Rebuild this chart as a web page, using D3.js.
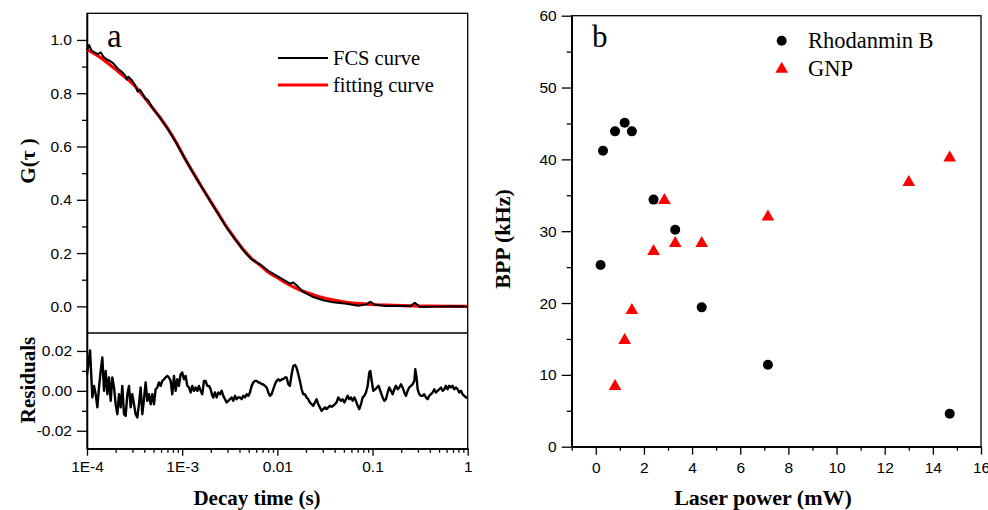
<!DOCTYPE html>
<html>

<head>
    <meta charset="utf-8">
    <title>FCS curve and BPP vs laser power</title>
    <script type="text/javascript" src="https://d3js.org/d3.v7.min.js"></script>
    <style>
        body { margin: 0; background: #fff; }
        svg { display: block; }
    </style>
</head>

<body>
</body>

<script type="text/javascript">
    var w = 988;
    var h = 510;

    // ---- panel a: FCS curve, fit and residuals (time given as log10 of seconds) ----
    var fitLogT = [-4.000, -3.846, -3.671, -3.496, -3.320, -3.233, -3.146, -3.058, -2.971, -2.883,
        -2.796, -2.708, -2.620, -2.533, -2.445, -2.358, -2.270, -2.183, -2.096, -2.007,
        -1.920, -1.833, -1.745, -1.658, -1.570, -1.482, -1.308, -1.132, -0.958, -0.783, -0.432, 0.000];
    var fitG = [0.965, 0.931, 0.881, 0.827, 0.749, 0.709, 0.664, 0.612, 0.555, 0.501,
        0.449, 0.398, 0.348, 0.298, 0.254, 0.213, 0.179, 0.155, 0.128, 0.110,
        0.090, 0.073, 0.059, 0.048, 0.037, 0.029, 0.017, 0.010, 0.006, 0.004, 0.001, 0.000];

    var fcsLogT = [-4.000, -3.979, -3.951, -3.916, -3.881, -3.856, -3.828, -3.793, -3.758, -3.723,
        -3.688, -3.671, -3.636, -3.601, -3.583, -3.566, -3.531, -3.496, -3.468, -3.443,
        -3.408, -3.391, -3.356, -3.321, -3.233, -3.146, -3.058, -2.971, -2.883, -2.796,
        -2.708, -2.620, -2.533, -2.445, -2.358, -2.270, -2.183, -2.078, -1.973, -1.868,
        -1.833, -1.798, -1.728, -1.623, -1.518, -1.413, -1.273, -1.150, -1.063, -1.021,
        -0.975, -0.852, -0.712, -0.607, -0.555, -0.502, -0.327, -0.152, 0.000];
    var fcsG = [0.962, 0.981, 0.960, 0.952, 0.947, 0.954, 0.937, 0.927, 0.921, 0.912,
        0.897, 0.890, 0.881, 0.868, 0.852, 0.862, 0.850, 0.831, 0.806, 0.813,
        0.793, 0.781, 0.773, 0.749, 0.708, 0.663, 0.611, 0.554, 0.500, 0.448,
        0.397, 0.346, 0.296, 0.252, 0.211, 0.176, 0.158, 0.129, 0.108, 0.085,
        0.090, 0.079, 0.054, 0.035, 0.023, 0.015, 0.010, 0.002, 0.0075, 0.0175,
        0.006, 0.001, 0.0025, 0.000, 0.0138, -0.0025, -0.001, 0.000, -0.001];

    var resLogT = [-4.000, -3.986, -3.968, -3.954, -3.944, -3.926, -3.909, -3.891, -3.874, -3.856,
        -3.839, -3.821, -3.804, -3.786, -3.769, -3.751, -3.734, -3.716, -3.699, -3.681,
        -3.664, -3.646, -3.629, -3.611, -3.594, -3.576, -3.559, -3.541, -3.524, -3.506,
        -3.489, -3.471, -3.454, -3.436, -3.419, -3.401, -3.384, -3.366, -3.349, -3.331,
        -3.314, -3.296, -3.279, -3.261, -3.244, -3.226, -3.209, -3.191, -3.174, -3.156,
        -3.139, -3.121, -3.104, -3.086, -3.069, -3.051, -3.034, -3.016, -2.999, -2.981,
        -2.964, -2.946, -2.929, -2.911, -2.894, -2.876, -2.859, -2.841, -2.824, -2.806,
        -2.789, -2.771, -2.754, -2.736, -2.718, -2.701, -2.683,
        -2.673, -2.656, -2.638, -2.620, -2.603, -2.585, -2.568, -2.550, -2.533, -2.515,
        -2.498, -2.480, -2.463, -2.445, -2.428, -2.410, -2.393, -2.375, -2.358, -2.340,
        -2.323, -2.305, -2.288, -2.270, -2.253, -2.235, -2.218, -2.200, -2.183, -2.165,
        -2.148, -2.130, -2.113, -2.095, -2.078, -2.060, -2.043, -2.025, -2.008, -1.990,
        -1.973, -1.955, -1.938, -1.920, -1.903, -1.885, -1.868, -1.850, -1.833, -1.815,
        -1.798, -1.780, -1.763, -1.745, -1.728, -1.710, -1.693, -1.675, -1.658, -1.640,
        -1.623, -1.605, -1.588, -1.570, -1.553, -1.535, -1.518, -1.500, -1.483, -1.465,
        -1.448, -1.430, -1.413, -1.395, -1.378, -1.360,
        -1.349, -1.331, -1.314, -1.296, -1.279, -1.261, -1.244, -1.226, -1.209, -1.191,
        -1.174, -1.156, -1.139, -1.121, -1.104, -1.086, -1.069, -1.051, -1.034, -1.023,
        -1.006, -0.992, -0.971, -0.953, -0.936, -0.918, -0.894, -0.876, -0.859, -0.841,
        -0.824, -0.806, -0.789, -0.771, -0.754, -0.736, -0.719, -0.701, -0.684, -0.666,
        -0.649, -0.631, -0.614, -0.596, -0.579, -0.561, -0.551, -0.537, -0.526, -0.509,
        -0.491, -0.474, -0.456, -0.439, -0.421, -0.404, -0.386, -0.369, -0.351, -0.334,
        -0.316, -0.299, -0.281, -0.264, -0.246, -0.229, -0.211, -0.194, -0.176, -0.159,
        -0.141, -0.124, -0.106, -0.089, -0.071, -0.054, -0.036, -0.019, 0.000];
    var resVal = [0.0080, 0.0133, 0.0203, 0.0067, -0.0033, 0.0025, -0.0017, -0.0083, 0.0017, 0.0100,
        0.0167, 0.0000, 0.0100, -0.0017, 0.0067, -0.0050, 0.0067, 0.0017, -0.0067, -0.0117,
        -0.0017, -0.0083, 0.0025, -0.0117, -0.0125, -0.0017, 0.0025, -0.0083, -0.0017, -0.0067,
        -0.0117, -0.0133, -0.0067, 0.0017, -0.0117, -0.0042, 0.0042, -0.0050, -0.0017, -0.0067,
        -0.0017, -0.0067, 0.0008, 0.0017, 0.0042, 0.0025, 0.0050, 0.0058, 0.0067, 0.0075,
        0.0067, 0.0050, -0.0017, 0.0075, 0.0000, 0.0058, 0.0025, 0.0083, 0.0092, 0.0058,
        0.0075, 0.0025, 0.0017, -0.0008, 0.0025, 0.0000, 0.0017, 0.0000, 0.0025, 0.0000,
        -0.0017, 0.0050, 0.0050, 0.0025, 0.0025, 0.0008, -0.0025,
        -0.0033, -0.0008, -0.0033, -0.0008, -0.0017, 0.0000, -0.0025, -0.0042, -0.0058, -0.0050,
        -0.0042, -0.0033, -0.0050, -0.0025, -0.0042, -0.0033, -0.0033, -0.0042, -0.0025, -0.0033,
        -0.0017, -0.0025, -0.0008, 0.0025, 0.0042, 0.0050, 0.0050, 0.0042, 0.0042, 0.0033,
        0.0033, 0.0025, 0.0017, -0.0008, -0.0025, -0.0017, 0.0008, 0.0033, 0.0050, 0.0058,
        0.0050, 0.0058, 0.0058, 0.0067, 0.0067, 0.0033, 0.0025, 0.0083, 0.0125, 0.0130,
        0.0117, 0.0083, 0.0050, 0.0008, -0.0017, -0.0017, -0.0033, -0.0042, -0.0058, -0.0067,
        -0.0075, -0.0058, -0.0042, -0.0067, -0.0083, -0.0100, -0.0092, -0.0083, -0.0092, -0.0083,
        -0.0075, -0.0080, -0.0075, -0.0067, -0.0058, -0.0033,
        -0.0042, -0.0050, -0.0042, -0.0058, -0.0042, -0.0025, -0.0042, -0.0033, -0.0050, -0.0033,
        -0.0050, -0.0075, -0.0092, -0.0067, -0.0033, -0.0025, -0.0008, 0.0025, 0.0092, 0.0100,
        0.0042, 0.0000, 0.0008, 0.0017, 0.0025, 0.0000, -0.0033, -0.0050, -0.0042, -0.0008,
        0.0017, 0.0000, -0.0017, 0.0008, 0.0025, 0.0008, 0.0017, 0.0033, 0.0017, -0.0008,
        -0.0025, 0.0000, 0.0017, 0.0025, 0.0033, 0.0050, 0.0108, 0.0067, 0.0008, -0.0017,
        -0.0025, -0.0025, -0.0017, -0.0033, -0.0042, -0.0025, -0.0017, -0.0008, 0.0008, -0.0008,
        0.0000, 0.0008, 0.0017, 0.0000, 0.0008, 0.0025, 0.0008, 0.0025, 0.0017, 0.0025,
        0.0008, 0.0017, 0.0008, -0.0008, 0.0000, -0.0017, -0.0025, -0.0033, -0.0033];

    var gTicks = [0, 0.2, 0.4, 0.6, 0.8, 1.0];
    var gMinor = [0.1, 0.3, 0.5, 0.7, 0.9];
    var resTicks = [-0.02, 0, 0.02];
    var resMinor = [-0.01, 0.01];
    var timeTicks = [1e-4, 1e-3, 1e-2, 1e-1, 1];
    var timeLabels = ["1E-4", "1E-3", "0.01", "0.1", "1"];

    // ---- panel b: BPP against laser power ----
    var powerRhB = [0.2, 0.3, 0.8, 1.2, 1.5, 2.4, 3.3, 4.4, 7.15, 14.7];
    var bppRhB = [25.3, 41.2, 43.9, 45.1, 43.9, 34.4, 30.2, 19.4, 11.4, 4.6];
    var powerGNP = [0.8, 1.2, 1.5, 2.4, 2.85, 3.3, 4.4, 7.15, 13.0, 14.7];
    var bppGNP = [8.4, 14.8, 19.0, 27.2, 34.3, 28.3, 28.3, 32.0, 36.8, 40.2];

    var bppTicks = [0, 10, 20, 30, 40, 50, 60];
    var bppMinor = [5, 15, 25, 35, 45, 55];
    var powerTicks = [0, 2, 4, 6, 8, 10, 12, 14, 16];
    var powerMinor = [-1, 1, 3, 5, 7, 9, 11, 13, 15];

    var tickFont = "'Liberation Sans', Arial, sans-serif";
    var serif = "'Liberation Serif', 'Times New Roman', serif";

    var svg = d3.select("body").append("svg").attr("width", w).attr("height", h);
    svg.append("rect").attr("width", w).attr("height", h).attr("fill", "#fff");

    // scales
    var xA = d3.scaleLog().domain([1e-4, 1]).range([87, 467.7]);
    var yA = d3.scaleLinear().domain([-0.1, 1.1]).range([333, 13.3]);
    var yR = d3.scaleLinear().domain([-0.029, 0.029]).range([448.7, 333]);
    var xB = d3.scaleLinear().domain([-1, 16]).range([571.7, 981]);
    var yB = d3.scaleLinear().domain([0, 60]).range([446.7, 15.7]);

    function styleAxis(g) {
        g.attr("font-family", tickFont).attr("font-size", 15.5);
        g.selectAll("line").attr("stroke", "#000").attr("stroke-width", 1.3);
        g.selectAll("path").attr("stroke", "#000").attr("stroke-width", 1.3);
        g.selectAll("text").attr("fill", "#000");
    }

    function addAxis(axis, tx, ty) {
        var g = svg.append("g").attr("transform", "translate(" + tx + "," + ty + ")").call(axis);
        styleAxis(g);
        return g;
    }

    // panel a boxes
    svg.append("rect").attr("x", 87).attr("y", 13.3).attr("width", 467.7 - 87).attr("height", 448.7 - 13.3)
        .attr("fill", "none").attr("stroke", "#000").attr("stroke-width", 1.3);
    svg.append("line").attr("x1", 87).attr("x2", 467.7).attr("y1", 333).attr("y2", 333)
        .attr("stroke", "#000").attr("stroke-width", 1.3);

    // panel a axes
    addAxis(d3.axisLeft(yA).tickValues(gMinor).tickSize(5).tickSizeOuter(0).tickFormat(""), 87, 0);
    addAxis(d3.axisLeft(yA).tickValues(gTicks).tickSize(10).tickSizeOuter(0).tickPadding(5)
        .tickFormat(d3.format(".1f")), 87, 0);
    addAxis(d3.axisLeft(yR).tickValues(resMinor).tickSize(5).tickSizeOuter(0).tickFormat(""), 87, 0);
    addAxis(d3.axisLeft(yR).tickValues(resTicks).tickSize(10).tickSizeOuter(0).tickPadding(5)
        .tickFormat(function(d) { return d3.format(".2f")(d).replace("−", "-"); }), 87, 0);

    var minorTimes = xA.ticks().filter(function(d) {
        return timeTicks.indexOf(d) < 0;
    });
    addAxis(d3.axisBottom(xA).tickValues(minorTimes).tickSize(4).tickSizeOuter(0).tickFormat(""), 0, 448.7);
    addAxis(d3.axisBottom(xA).tickValues(timeTicks).tickSize(7).tickSizeOuter(0).tickPadding(5)
        .tickFormat(function(d, i) { return timeLabels[i]; }), 0, 448.7);

    // fit (red) under data (black)
    var fitLine = d3.line()
        .x(function(d) { return xA(Math.pow(10, d[0])); })
        .y(function(d) { return yA(d[1]); })
        .curve(d3.curveMonotoneX);
    svg.append("path").datum(d3.zip(fitLogT, fitG)).attr("d", fitLine)
        .attr("fill", "none").attr("stroke", "#ff0000").attr("stroke-width", 3.2);

    var dataLine = d3.line()
        .x(function(d) { return xA(Math.pow(10, d[0])); })
        .y(function(d) { return yA(d[1]); });
    svg.append("path").datum(d3.zip(fcsLogT, fcsG)).attr("d", dataLine)
        .attr("fill", "none").attr("stroke", "#000").attr("stroke-width", 2)
        .attr("stroke-linejoin", "round");

    var resLine = d3.line()
        .x(function(d) { return xA(Math.pow(10, d[0])); })
        .y(function(d) { return yR(d[1]); });
    svg.append("path").datum(d3.zip(resLogT, resVal)).attr("d", resLine)
        .attr("fill", "none").attr("stroke", "#000").attr("stroke-width", 2.4)
        .attr("stroke-linejoin", "round");

    // legend a
    svg.append("line").attr("x1", 278).attr("x2", 328).attr("y1", 58).attr("y2", 58)
        .attr("stroke", "#000").attr("stroke-width", 2.2);
    svg.append("line").attr("x1", 278).attr("x2", 328).attr("y1", 85).attr("y2", 85)
        .attr("stroke", "#ff0000").attr("stroke-width", 3.2);
    svg.append("text").attr("x", 333).attr("y", 65).text("FCS curve")
        .attr("font-family", serif).attr("font-size", 20.5);
    svg.append("text").attr("x", 333).attr("y", 91.5).text("fitting curve")
        .attr("font-family", serif).attr("font-size", 20.5);
    svg.append("text").attr("x", 107).attr("y", 46.5).text("a")
        .attr("font-family", serif).attr("font-size", 33);

    // panel a titles
    svg.append("text").attr("x", 257).attr("y", 505).attr("text-anchor", "middle")
        .attr("font-family", serif).attr("font-size", 21).attr("font-weight", "bold")
        .text("Decay time (s)");
    svg.append("text").attr("transform", "translate(35,161) rotate(-90)").attr("text-anchor", "middle")
        .attr("font-family", serif).attr("font-size", 21).attr("font-weight", "bold")
        .text("G(τ )");
    svg.append("text").attr("transform", "translate(35,380) rotate(-90)").attr("text-anchor", "middle")
        .attr("font-family", serif).attr("font-size", 21).attr("font-weight", "bold")
        .text("Residuals");

    // panel b box and axes
    svg.append("rect").attr("x", 571.7).attr("y", 15.7).attr("width", 981 - 571.7).attr("height", 446.7 - 15.7)
        .attr("fill", "none").attr("stroke", "#000").attr("stroke-width", 1.3);
    addAxis(d3.axisLeft(yB).tickValues(bppMinor).tickSize(5).tickSizeOuter(0).tickFormat(""), 571.7, 0);
    addAxis(d3.axisLeft(yB).tickValues(bppTicks).tickSize(10).tickSizeOuter(0).tickPadding(5), 571.7, 0);
    addAxis(d3.axisBottom(xB).tickValues(powerMinor).tickSize(4).tickSizeOuter(0).tickFormat(""), 0, 446.7);
    addAxis(d3.axisBottom(xB).tickValues(powerTicks).tickSize(8).tickSizeOuter(0).tickPadding(7), 0, 446.7);

    svg.append("g").selectAll("circle")
        .data(d3.zip(powerRhB, bppRhB))
        .enter()
        .append("circle")
        .attr("cx", function(d) { return xB(d[0]); })
        .attr("cy", function(d) { return yB(d[1]); })
        .attr("r", 5)
        .attr("fill", "#000");

    var tri = d3.symbol().type(d3.symbolTriangle).size(70);
    svg.append("g").selectAll("path")
        .data(d3.zip(powerGNP, bppGNP))
        .enter()
        .append("path")
        .attr("d", tri)
        .attr("transform", function(d) {
            return "translate(" + xB(d[0]) + "," + yB(d[1]) + ")";
        })
        .attr("fill", "#ff0000");

    // legend b
    svg.append("circle").attr("cx", 781.7).attr("cy", 40.7).attr("r", 5).attr("fill", "#000");
    svg.append("path").attr("d", tri).attr("transform", "translate(781.7,69)").attr("fill", "#ff0000");
    svg.append("text").attr("x", 808).attr("y", 48).text("Rhodanmin B")
        .attr("font-family", serif).attr("font-size", 22.5);
    svg.append("text").attr("x", 808).attr("y", 76).text("GNP")
        .attr("font-family", serif).attr("font-size", 22.5);
    svg.append("text").attr("x", 592).attr("y", 46.5).text("b")
        .attr("font-family", serif).attr("font-size", 31);

    svg.append("text").attr("x", 763).attr("y", 505).attr("text-anchor", "middle")
        .attr("font-family", serif).attr("font-size", 22).attr("font-weight", "bold")
        .text("Laser power (mW)");
    svg.append("text").attr("transform", "translate(510,239) rotate(-90)").attr("text-anchor", "middle")
        .attr("font-family", serif).attr("font-size", 22).attr("font-weight", "bold")
        .text("BPP (kHz)");
</script>
</html>
